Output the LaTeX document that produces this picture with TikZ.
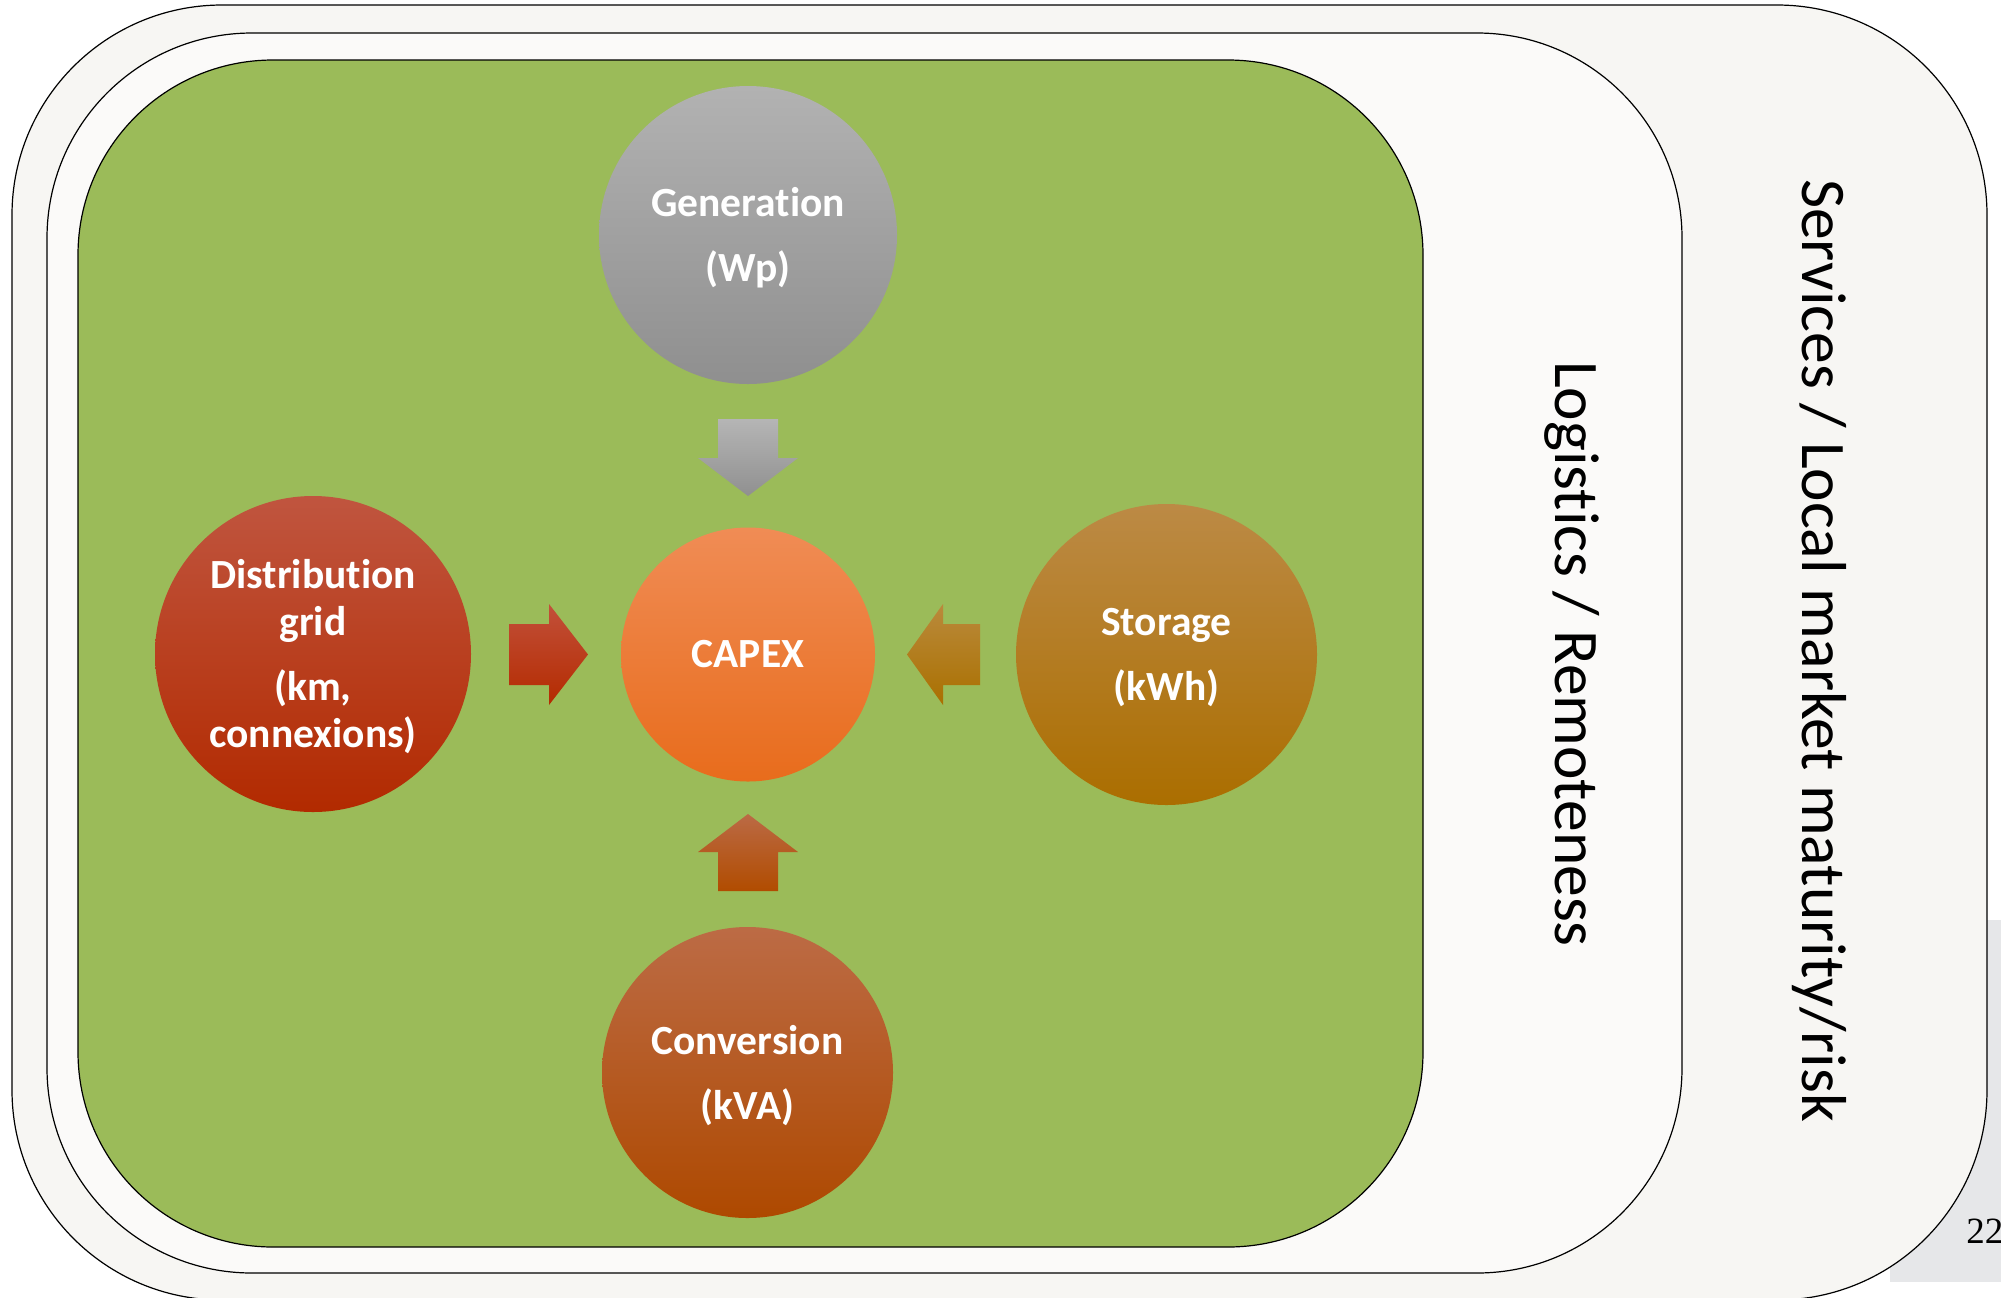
\documentclass[tikz,border=0pt]{standalone}
\usepackage{fontspec}
\setmainfont[Ligatures={NoCommon}]{Carlito}
\newfontfamily\pagenumfont{Liberation Serif}
\definecolor{outerfill}{HTML}{F7F6F3}
\definecolor{midfill}{HTML}{FBFAF9}
\definecolor{greenfill}{HTML}{9BBB59}
\definecolor{pagegray}{HTML}{E6E7E9}
\definecolor{genT}{HTML}{B2B2B2}\definecolor{genB}{HTML}{8F8F8F}
\definecolor{capT}{HTML}{F08C55}\definecolor{capM}{HTML}{F37E2C}\definecolor{capB}{HTML}{E86C1C}
\definecolor{disT}{HTML}{C0553F}\definecolor{disM}{HTML}{BA3200}\definecolor{disB}{HTML}{B22A00}
\definecolor{stoT}{HTML}{BC8A45}\definecolor{stoM}{HTML}{B47D08}\definecolor{stoB}{HTML}{AB6E00}
\definecolor{conT}{HTML}{BC6B45}\definecolor{conM}{HTML}{B65200}\definecolor{conB}{HTML}{AE4900}
\definecolor{agT}{HTML}{B5B5B5}\definecolor{agB}{HTML}{909090}
\definecolor{arT}{HTML}{C2503A}\definecolor{arB}{HTML}{B42B00}
\definecolor{asT}{HTML}{BA8A3C}\definecolor{asB}{HTML}{AA7000}
\definecolor{acT}{HTML}{BB6A45}\definecolor{acB}{HTML}{B14C00}
\begin{document}
\begin{tikzpicture}[x=0.5pt,y=-0.5pt,
  box/.style={draw=black, line width=0.6pt},
  bubble/.style={circle, inner sep=0pt, align=center, text=white,
    font=\bfseries\fontsize{20.75}{23.5}\selectfont},
  sidetext/.style={rotate=-90, anchor=base, inner sep=0pt, text=black,
    font=\fontsize{31.75}{38}\selectfont},
  blockarrow/.style={draw=none}]
\useasboundingbox (0,0) rectangle (2001,1297);
% page number backdrop
\fill[pagegray] (1890,920) rectangle (2001,1282);
% nested rounded panels
\draw[box, fill=outerfill, rounded corners=105pt] (12,5) rectangle (1987,1300);
\draw[box, fill=midfill, rounded corners=102.5pt] (47,33) rectangle (1682,1273);
\draw[box, fill=greenfill, rounded corners=97.5pt] (78,60) rectangle (1423,1247);
% page number
\node[anchor=base west, inner sep=0pt, font=\pagenumfont\fontsize{18.5}{20}\selectfont] (pnum) at (1966,1243) {22};
% side labels
\node[sidetext] (services) at (1802,650.5) {Services / Local market maturity/risk};
\node[sidetext] (logistics) at (1555,654) {Logistics / Remoteness};
% bubbles
\node[bubble, minimum size=149pt, top color=genT, bottom color=genB] (gen) at (748,235) {};
\node[bubble, minimum size=127pt, top color=capT, middle color=capM, bottom color=capB] (capex) at (748,654.5) {CAPEX};
\node[bubble, minimum size=158pt, top color=disT, middle color=disM, bottom color=disB] (dist) at (313,654) {};
\node[bubble, minimum size=150.5pt, top color=stoT, middle color=stoM, bottom color=stoB] (stor) at (1166.5,654.5) {};
\node[bubble, minimum size=145.5pt, top color=conT, middle color=conM, bottom color=conB] (conv) at (747.5,1072.5) {};
% bubble labels
\node[bubble] (genlbl) at ([yshift=-1.5pt]gen.center) {Generation\\[9pt](Wp)};
\node[bubble] (distlbl) at ([yshift=-1.5pt]dist.center) {Distribution\\grid\\[9pt](km,\\connexions)};
\node[bubble] (storlbl) at ([yshift=-1.5pt]stor.center) {Storage\\[9pt](kWh)};
\node[bubble] (convlbl) at ([yshift=-1.5pt]conv.center) {Conversion\\[9pt](kVA)};
% block arrows towards CAPEX
\shade[blockarrow, top color=agT, bottom color=agB]
  (718,419) -- (778,419) -- (778,458) -- (798,458) -- (748,496) -- (698,458) -- (718,458) -- cycle;
\shade[blockarrow, top color=arT, bottom color=arB]
  (509,624) -- (549,624) -- (549,604) -- (588,654.5) -- (549,705) -- (549,685) -- (509,685) -- cycle;
\shade[blockarrow, top color=asT, bottom color=asB]
  (980,624) -- (943,624) -- (943,604) -- (907,654.5) -- (943,705) -- (943,685) -- (980,685) -- cycle;
\shade[blockarrow, top color=acT, bottom color=acB]
  (748,814) -- (798,852) -- (778,852) -- (778,891) -- (718,891) -- (718,852) -- (698,852) -- cycle;
\end{tikzpicture}
\end{document}
